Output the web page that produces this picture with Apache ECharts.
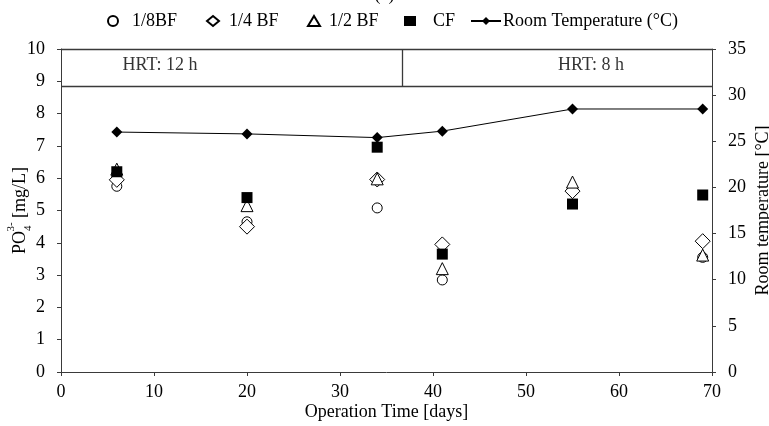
<!DOCTYPE html>
<html><head><meta charset="utf-8">
<script src="https://cdn.jsdelivr.net/npm/echarts@6/dist/echarts.min.js"></script>
<style>html,body{margin:0;padding:0;background:#fff}#chart{width:769px;height:426px}</style>
</head><body><div id="chart"></div>
<script>
// Sampling days and measured phosphate concentrations [mg/L]
const days = [6, 20, 34, 41, 55, 69];
const bf18 = [5.75, 4.65, 5.08, 2.85, 5.6, 3.55];
const bf14 = [5.95, 4.5, 5.96, 3.95, 5.6, 4.05];
const bf12 = [6.28, 5.15, 5.98, 3.2, 5.88, 3.62];
const cf = [6.2, 5.4, 6.96, 3.65, 5.2, 5.48];
// Room temperature [°C]
const roomTemp = [26.0, 25.8, 25.4, 26.1, 28.5, 28.5];
// Operating periods
const hrtSwitchDay = 36.7;
const hrtBandBottom = 8.85;
const hrtLabels = [[10.65, 9.5, 'HRT: 12 h'], [57, 9.5, 'HRT: 8 h']];

const FONT = '"Liberation Serif", "Times New Roman", serif';
const FS = 18;
const axisCol = '#3a3a3a';
const pts = arr => days.map((d, i) => [d, arr[i]]);

const scatter = (name, symbol, size, data, filled) => ({
  name, type: 'scatter', symbol, symbolSize: size, data: pts(data),
  itemStyle: filled ? { color: '#000', opacity: 1 } : { color: '#fff', borderColor: '#000', borderWidth: 1, opacity: 1 },
  z: 3
});

const baseAxis = {
  nameMoveOverlap: false,
  axisLine: { show: true, lineStyle: { color: axisCol, width: 1 } },
  axisTick: { show: true, inside: false, length: 4, lineStyle: { color: axisCol } },
  axisLabel: { color: '#000', fontFamily: FONT, fontSize: FS },
  splitLine: { show: false },
  nameTextStyle: { color: '#000', fontFamily: FONT, fontSize: FS }
};

// one legend entry per series so each sits at its own spot
const legendItem = (name, left, width, pad) => ({
  left, top: 12, padding: 0, itemWidth: width, itemHeight: 10, selectedMode: false,
  textStyle: { color: '#000', fontFamily: FONT, fontSize: FS, padding: [0, 0, 0, pad] },
  data: [name]
});

const chart = echarts.init(document.getElementById('chart'));
chart.setOption({
  animation: false,
  backgroundColor: '#fff',
  textStyle: { fontFamily: FONT },
  grid: { left: 61, right: 57, top: 49, bottom: 54, containLabel: false, outerBoundsMode: 'none' },
  graphic: [{ type: 'text', left: 'center', top: -14, style: { text: '(a)', font: FS + 'px ' + FONT, fill: '#000' } }],
  legend: [
    legendItem('1/8BF', 107, 12, 8),
    legendItem('1/4 BF', 206, 12, 5),
    legendItem('1/2 BF', 307, 12, 4),
    legendItem('CF', 404, 12, 12),
    legendItem('Room Temperature (°C)', 470, 30, -3)
  ],
  xAxis: Object.assign({}, baseAxis, {
    type: 'value', min: 0, max: 70, interval: 10,
    name: 'Operation Time [days]', nameLocation: 'middle', nameGap: 31,
    axisLabel: Object.assign({}, baseAxis.axisLabel, { margin: 11 })
  }),
  yAxis: [
    Object.assign({}, baseAxis, {
      type: 'value', min: 0, max: 10, interval: 1, position: 'left',
      name: '{a|PO}{s|4}{p|3-}{a| [mg/L]}', nameLocation: 'middle', nameGap: 32, nameRotate: 90,
      nameTextStyle: { color: '#000', fontFamily: FONT, fontSize: FS, rich: {
        a: { fontFamily: FONT, fontSize: FS, color: '#000' },
        s: { fontFamily: FONT, fontSize: 11, color: '#000', verticalAlign: 'bottom', padding: [0, 0, -5, 0] },
        p: { fontFamily: FONT, fontSize: 11, color: '#000', verticalAlign: 'top', padding: [-5, 0, 0, -6] }
      } },
      axisLabel: Object.assign({}, baseAxis.axisLabel, { margin: 16 })
    }),
    Object.assign({}, baseAxis, {
      type: 'value', min: 0, max: 35, interval: 5, position: 'right',
      name: 'Room temperature [°C]', nameLocation: 'middle', nameGap: 42, nameRotate: 90,
      axisLabel: Object.assign({}, baseAxis.axisLabel, { margin: 16 })
    })
  ],
  series: [
    scatter('1/8BF', 'circle', 10, bf18, false),
    scatter('1/4 BF', 'diamond', 15, bf14, false),
    scatter('1/2 BF', 'triangle', 12, bf12, false),
    scatter('CF', 'rect', 11, cf, true),
    {
      name: 'Room Temperature (°C)', type: 'line', yAxisIndex: 1,
      data: pts(roomTemp), symbol: 'diamond', symbolSize: 11,
      itemStyle: { color: '#000' }, lineStyle: { color: '#000', width: 1 }, z: 4
    },
    {
      // HRT header band: top border, lower border and period divider
      name: 'hrt', type: 'line', data: [], silent: true,
      markLine: {
        symbol: 'none', silent: true, label: { show: false },
        lineStyle: { color: axisCol, width: 1.3, type: 'solid' },
        data: [
          [{ coord: [0, hrtBandBottom] }, { coord: [70, hrtBandBottom] }],
          [{ coord: [0, 10] }, { coord: [70, 10] }],
          [{ coord: [hrtSwitchDay, hrtBandBottom] }, { coord: [hrtSwitchDay, 10] }]
        ]
      }
    },
    {
      name: 'hrtText', type: 'scatter', symbolSize: 0, silent: true,
      data: hrtLabels.map(h => ({ value: [h[0], h[1]], label: { formatter: h[2] } })),
      label: { show: true, position: 'inside', color: '#000', fontFamily: FONT, fontSize: FS }
    }
  ]
});
</script></body></html>
